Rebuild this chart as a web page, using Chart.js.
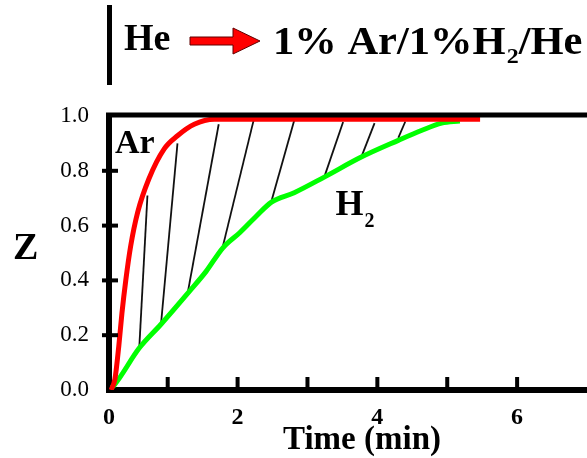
<!DOCTYPE html>
<html>
<head>
<meta charset="utf-8">
<script src="https://cdn.jsdelivr.net/npm/chart.js@4.4.1/dist/chart.umd.min.js"></script>
<style>
  html, body { margin: 0; padding: 0; background: #fff; }
</style>
</head>
<body>
<canvas id="chart" width="587" height="458"></canvas>
<script>
"use strict";

// Ar response (red)
const arTime = [0.19, 0.245, 0.30, 0.345, 0.40, 0.47, 0.57, 0.73, 0.95, 1.14, 1.38, 1.67, 2.0, 3.0, 4.0, 5.0, 5.47];
const arZ = [0.0, 0.04, 0.16, 0.28, 0.40, 0.525, 0.648, 0.77, 0.88, 0.928, 0.97, 0.988, 0.988, 0.988, 0.988, 0.988, 0.988];

// H2 response (green)
const h2Time = [0.20, 0.235, 0.593, 0.904, 1.31, 1.55, 1.79, 2.03, 2.27, 2.48, 2.81, 3.24, 3.77, 4.30, 4.63, 4.92, 5.18];
const h2Z = [0.01, 0.018, 0.153, 0.24, 0.36, 0.433, 0.519, 0.574, 0.635, 0.685, 0.72, 0.777, 0.85, 0.911, 0.947, 0.974, 0.982];

// hatch strokes between the curves: start on H2, end near Ar
const hatchT0 = [0.593, 0.904, 1.29, 1.79, 2.48, 3.24, 3.77, 4.30];
const hatchZ0 = [0.153, 0.24, 0.36, 0.525, 0.685, 0.777, 0.85, 0.92];
const hatchT1 = [0.71, 1.14, 1.73, 2.23, 2.81, 3.51, 3.96, 4.40];
const hatchZ1 = [0.71, 0.90, 0.97, 0.985, 0.984, 0.978, 0.974, 0.98];

// axis ticks
const xTickValues = [0.16, 2, 4, 6];
const xTickLabels = ["0", "2", "4", "6"];
const xMarks = [1, 2, 3, 4, 5, 6];
const yMarks = [0.2, 0.4, 0.6, 0.8];

const SERIF = '"Liberation Serif", "Times New Roman", serif';

function toPoints(xs, ys) {
  return xs.map((x, i) => ({ x: x, y: ys[i] }));
}

// Title, labels, inner tick marks and top frame line
const decor = {
  id: "decor",
  afterDraw(chart) {
    const ctx = chart.ctx;
    const area = chart.chartArea;
    const xs = chart.scales.x;
    const ys = chart.scales.y;
    ctx.save();

    // top frame line
    ctx.strokeStyle = "#000";
    ctx.lineWidth = 5;
    ctx.beginPath();
    ctx.moveTo(area.left - 3, area.top - 1);
    ctx.lineTo(area.right, area.top - 1);
    ctx.stroke();

    // x tick marks (inside)
    ctx.lineWidth = 4;
    xMarks.forEach((v) => {
      const px = xs.getPixelForValue(v);
      ctx.beginPath();
      ctx.moveTo(px, area.bottom);
      ctx.lineTo(px, area.bottom - 13);
      ctx.stroke();
    });
    // y tick marks (crossing)
    yMarks.forEach((v) => {
      const py = ys.getPixelForValue(v);
      ctx.beginPath();
      ctx.moveTo(area.left - 7, py);
      ctx.lineTo(area.left + 9, py);
      ctx.stroke();
    });

    // header: bar, He, arrow, gas mixture
    ctx.lineWidth = 5;
    ctx.beginPath();
    ctx.moveTo(109.5, 5);
    ctx.lineTo(109.5, 85);
    ctx.stroke();

    ctx.fillStyle = "#000";
    ctx.textBaseline = "alphabetic";
    ctx.textAlign = "left";
    ctx.font = "bold 38px " + SERIF;
    ctx.fillText("He", 124, 50);

    ctx.beginPath();
    ctx.moveTo(190, 37);
    ctx.lineTo(233, 37);
    ctx.lineTo(233, 28);
    ctx.lineTo(260, 41);
    ctx.lineTo(233, 54);
    ctx.lineTo(233, 45);
    ctx.lineTo(190, 45);
    ctx.closePath();
    ctx.fillStyle = "#ff0000";
    ctx.fill();
    ctx.strokeStyle = "#600000";
    ctx.lineWidth = 1;
    ctx.stroke();

    // mixture text, slightly stretched like the original
    ctx.save();
    ctx.translate(273, 0);
    ctx.scale(1.09, 1);
    ctx.fillStyle = "#000";
    let tx = 0;
    ctx.font = "bold 39px " + SERIF;
    ctx.fillText("1% Ar/1%H", tx, 54);
    tx += ctx.measureText("1% Ar/1%H").width + 1;
    ctx.font = "bold 22px " + SERIF;
    ctx.fillText("2", tx, 63);
    tx += ctx.measureText("2").width;
    ctx.font = "bold 39px " + SERIF;
    ctx.fillText("/He", tx, 54);
    ctx.restore();

    // curve labels
    ctx.fillStyle = "#000";
    ctx.font = "bold 34px " + SERIF;
    ctx.fillText("Ar", xs.getPixelForValue(0.246), ys.getPixelForValue(0.865));
    const hx = xs.getPixelForValue(3.40);
    const hy = ys.getPixelForValue(0.639);
    ctx.font = "bold 36px " + SERIF;
    ctx.fillText("H", hx, hy);
    const hw = ctx.measureText("H").width;
    ctx.font = "bold 20px " + SERIF;
    ctx.fillText("2", hx + hw + 1, hy + 12);

    // axis titles
    ctx.font = "bold 38px " + SERIF;
    ctx.fillText("Z", 13, 259);
    ctx.font = "bold 33px " + SERIF;
    ctx.textAlign = "center";
    ctx.fillText("Time (min)", 362, 449);

    ctx.restore();
  },
};

const hatchSets = hatchT0.map((t, i) => ({
  data: [{ x: t, y: hatchZ0[i] }, { x: hatchT1[i], y: hatchZ1[i] }],
  borderColor: "#111111",
  borderWidth: 1.8,
  tension: 0,
  order: 3,
}));

const ctx = document.getElementById("chart").getContext("2d");
new Chart(ctx, {
  type: "line",
  data: {
    datasets: [
      {
        label: "Ar",
        data: toPoints(arTime, arZ),
        borderColor: "#ff0000",
        borderWidth: 5,
        cubicInterpolationMode: "monotone",
        order: 1,
      },
      {
        label: "H2",
        data: toPoints(h2Time, h2Z),
        borderColor: "#00ff00",
        borderWidth: 5,
        cubicInterpolationMode: "monotone",
        order: 2,
      },
      ...hatchSets,
    ],
  },
  options: {
    responsive: false,
    animation: false,
    devicePixelRatio: 1,
    layout: { padding: { top: 116, right: 0, bottom: 0, left: 0 } },
    elements: { point: { radius: 0 } },
    plugins: {
      legend: { display: false },
      tooltip: { enabled: false },
    },
    scales: {
      x: {
        type: "linear",
        min: 0.16,
        max: 7.0,
        grid: { display: false, drawTicks: false },
        border: { display: true, color: "#000", width: 6 },
        afterBuildTicks: (scale) => {
          scale.ticks = xTickValues.map((v) => ({ value: v }));
        },
        afterFit: (scale) => {
          scale.height = 68;
        },
        ticks: {
          autoSkip: false,
          maxRotation: 0,
          padding: 13,
          color: "#000",
          font: { family: SERIF, size: 24, weight: "bold" },
          callback: (value, index) => xTickLabels[index],
        },
      },
      y: {
        min: 0,
        max: 1,
        grid: { display: false, drawTicks: false },
        border: { display: true, color: "#000", width: 6 },
        afterFit: (scale) => {
          scale.width = 109;
        },
        ticks: {
          stepSize: 0.2,
          padding: 20,
          color: "#000",
          font: { family: SERIF, size: 23 },
          callback: (value) => Number(value).toFixed(1),
        },
      },
    },
  },
  plugins: [decor],
});
</script>
</body>
</html>
